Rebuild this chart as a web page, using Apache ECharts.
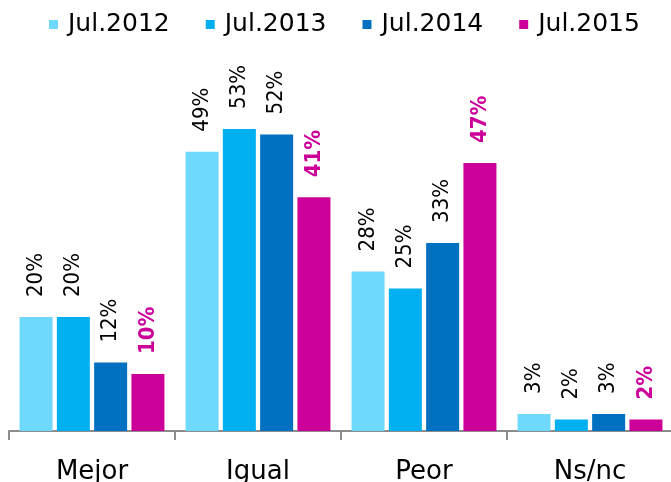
<!DOCTYPE html>
<html>
<head>
<meta charset="utf-8">
<script src="https://cdn.jsdelivr.net/npm/echarts@6/dist/echarts.min.js"></script>
<style>
  html, body { margin: 0; padding: 0; background: #fff; }
  #chart { width: 671px; height: 482px; }
</style>
</head>
<body>
<div id="chart"></div>
<script>
// categorías y valores (%)
const categories = ['Mejor', 'Igual', 'Peor', 'Ns/nc']
const jul2012 = [20, 49, 28, 3]
const jul2013 = [20, 53, 25, 2]
const jul2014 = [12, 52, 33, 3]
const jul2015 = [10, 41, 47, 2]

const seriesNames = ['Jul.2012', 'Jul.2013', 'Jul.2014', 'Jul.2015']
const seriesColors = ['#6FD9FD', '#00B0F0', '#0070C0', '#CC0099']
const seriesData = [jul2012, jul2013, jul2014, jul2015]

const chart = echarts.init(document.getElementById('chart'))

const makeSeries = (i) => {
  const last = i === 3
  return {
    name: seriesNames[i],
    type: 'bar',
    data: seriesData[i],
    barWidth: 33,
    barGap: '13%',
    itemStyle: { color: seriesColors[i] },
    label: {
      show: true,
      position: 'top',
      rotate: 90,
      align: 'left',
      verticalAlign: 'middle',
      distance: 20,
      formatter: '{c}%',
      fontFamily: 'DejaVu Sans Condensed',
      fontSize: 22,
      fontWeight: last ? 'bold' : 'normal',
      color: last ? '#CC0099' : '#000'
    }
  }
}

const option = {
  animation: false,
  legend: {
    data: seriesNames,
    left: 44,
    top: 7,
    icon: 'rect',
    itemWidth: 9,
    itemHeight: 9,
    itemGap: 36,
    textStyle: {
      fontFamily: 'DejaVu Sans',
      fontSize: 25,
      color: '#000',
      padding: [0, 0, 0, 5]
    }
  },
  grid: {
    left: 9,
    right: -2,
    top: 89,
    bottom: 51,
    containLabel: false,
    outerBoundsMode: 'none'
  },
  xAxis: {
    type: 'category',
    data: categories,
    axisLine: { lineStyle: { color: '#8c8c8c', width: 2 } },
    axisTick: { show: true, length: 9, lineStyle: { color: '#8c8c8c', width: 2 } },
    axisLabel: {
      margin: 28,
      fontFamily: 'DejaVu Sans',
      fontSize: 26,
      color: '#000'
    }
  },
  yAxis: {
    type: 'value',
    min: 0,
    max: 60,
    show: false,
    splitLine: { show: false }
  },
  series: [0, 1, 2, 3].map(makeSeries)
}

chart.setOption(option)
</script>
</body>
</html>
